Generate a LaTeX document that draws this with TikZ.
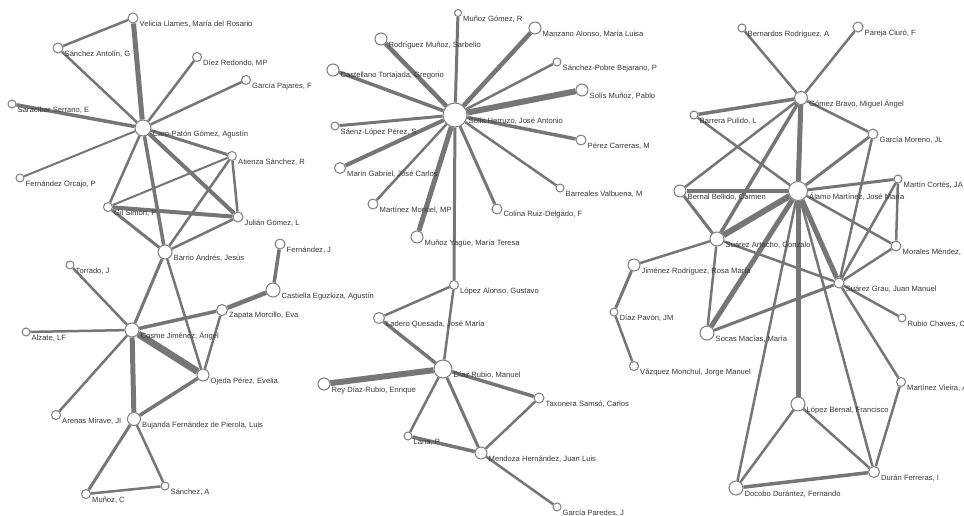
\documentclass[tikz,border=0pt]{standalone}
\usepackage{fontspec}
\setmainfont{Liberation Sans}
\usetikzlibrary{backgrounds}
\definecolor{edgec}{RGB}{118,118,118}
\definecolor{ringc}{RGB}{125,125,125}
\definecolor{txtc}{RGB}{55,55,55}
\tikzset{
  pn/.style={circle, draw=ringc, line width=1pt, fill=white, inner sep=0pt},
  lbl/.style={anchor=west, inner sep=0pt, font=\fontsize{7.6}{8}\selectfont, text=txtc},
  edge/.style={draw=edgec}
}
\newcommand\pn[5]{\node[pn, minimum size=#4pt] (#1) at (#2,#3) {}; \node[lbl] (#1-l) at ([shift={(1pt,-6pt)}]#1.east) {#5};}
\newcommand\ed[3]{\draw[edge, line width=#3pt] (#1) -- (#2);}
\begin{document}
\begin{tikzpicture}[x=1pt,y=-1pt]
\useasboundingbox (0,0) rectangle (964,516);
% ---------- left cluster ----------
\pn{VL}{133}{18}{10}{Velicia Llames, María del Rosario}
\pn{SAG}{58}{48}{10}{Sánchez Antolín, G}
\pn{DR}{197}{57}{9}{Díez Redondo, MP}
\pn{GP}{246}{80}{9}{García Pajares, F}
\pn{SS}{12}{104}{8}{Saracíbar Serrano, E}
\pn{CP}{143}{128}{16}{Caro-Patón Gómez, Agustín}
\pn{AS}{232}{156}{9}{Atienza Sánchez, R}
\pn{FO}{20}{178}{8}{Fernández Orcajo, P}
\pn{GS}{108}{207}{9}{Gil Simón, P}
\pn{JG}{238}{217}{10}{Julián Gómez, L}
\pn{BA}{165}{252}{14}{Barrio Andrés, Jesús}
\pn{FJ}{280}{244}{10}{Fernández, J}
\pn{CE}{273}{290}{14}{Castiella Eguzkiza, Agustín}
\pn{TJ}{70}{265}{8}{Torrado, J}
\pn{ZM}{222}{310}{11}{Zapata Morcillo, Eva}
\pn{CJ}{132}{330}{14}{Cosme Jiménez, Ángel}
\pn{AL}{26}{332}{8}{Alzate, LF}
\pn{OP}{203}{375}{12}{Ojeda Pérez, Evelia}
\pn{AM}{56}{415}{9}{Arenas Mirave, JI}
\pn{BF}{134}{419}{13}{Bujanda Fernández de Pierola, Luis}
\pn{MC}{86}{494}{9}{Muñoz, C}
\pn{SA}{165}{486}{8}{Sánchez, A}
% ---------- middle cluster ----------
\pn{MG}{458}{13}{7}{Muñoz Gómez, R}
\pn{MA}{535}{28}{12}{Manzano Alonso, María Luisa}
\pn{RM}{381}{39}{12}{Rodríguez Muñoz, Sarbelio}
\pn{SP}{557}{62}{8}{Sánchez-Pobre Bejarano, P}
\pn{CT}{333}{70}{12}{Castellano Tortajada, Gregorio}
\pn{SM}{582}{90}{12}{Solís Muñoz, Pablo}
\pn{SH}{455}{115}{24}{Solís Herruzo, José Antonio}
\pn{SL}{335}{126}{8}{Sáenz-López Pérez, S}
\pn{PC}{581}{140}{10}{Pérez Carreras, M}
\pn{MGa}{340}{168}{11}{Marín Gabriel, José Carlos}
\pn{BV}{560}{188}{8}{Barreales Valbuena, M}
\pn{MM}{373}{204}{10}{Martínez Montiel, MP}
\pn{CR}{497}{209}{10}{Colina Ruiz-Delgado, F}
\pn{MY}{417}{237}{12}{Muñoz Yagüe, María Teresa}
\pn{LA}{454}{285}{9}{López Alonso, Gustavo}
\pn{LQ}{379}{318}{11}{Ladero Quesada, José María}
\pn{DRM}{443}{369}{18}{Díaz Rubio, Manuel}
\pn{RD}{324}{384}{12}{Rey Díaz-Rubio, Enrique}
\pn{TS}{539}{398}{10}{Taxonera Samsó, Carlos}
\pn{LP}{408}{436}{8}{Lana, P}
\pn{MH}{481}{453}{12}{Mendoza Hernández, Juan Luis}
\pn{GPJ}{557}{507}{8}{García Paredes, J}
% ---------- right cluster ----------
\pn{BR}{742}{28}{8}{Bernardos Rodríguez, A}
\pn{PCi}{858}{27}{10}{Pareja Ciuró, F}
\pn{GB}{801}{98}{13}{Gómez Bravo, Miguel Ángel}
\pn{BP}{694}{115}{8}{Barrera Pulido, L}
\pn{GM}{873}{134}{10}{García Moreno, JL}
\pn{MCo}{898}{179}{8}{Martín Cortés, JA}
\pn{BB}{680}{191}{12}{Bernal Bellido, Carmen}
\pn{AMa}{798}{191}{19}{Álamo Martínez, José María}
\pn{SAr}{717}{239}{14}{Suárez Artacho, Gonzalo}
\pn{MMe}{896}{246}{10}{Morales Méndez,}
\pn{JR}{634}{265}{12}{Jiménez Rodríguez, Rosa María}
\pn{SG}{839}{283}{10}{Suárez Grau, Juan Manuel}
\pn{DP}{614}{312}{8}{Díaz Pavón, JM}
\pn{RC}{902}{318}{8}{Rubio Chaves, C}
\pn{SMa}{707}{333}{14}{Socas Macías, María}
\pn{VM}{634}{366}{9}{Vázquez Monchul, Jorge Manuel}
\pn{MV}{901}{382}{9}{Martínez Vieira, A}
\pn{LB}{798}{404}{14}{López Bernal, Francisco}
\pn{DF}{874}{472}{11}{Durán Ferreras, I}
\pn{DD}{736}{488}{14}{Docobo Durántez, Fernando}
\begin{pgfonlayer}{background}
\fill[white] (0,0) rectangle (964,516);
% left edges
\ed{VL}{CP}{5}
\ed{VL}{SAG}{2.5}
\ed{SAG}{CP}{2.5}
\ed{DR}{CP}{2.5}
\ed{GP}{CP}{2.5}
\ed{SS}{CP}{3.5}
\ed{FO}{CP}{2}
\ed{CP}{AS}{3}
\ed{CP}{GS}{2.5}
\ed{CP}{BA}{3.5}
\ed{CP}{JG}{4}
\ed{AS}{GS}{2}
\ed{AS}{JG}{2.5}
\ed{AS}{BA}{2.5}
\ed{GS}{JG}{4}
\ed{GS}{BA}{3}
\ed{BA}{JG}{2.5}
\ed{BA}{CJ}{3}
\ed{BA}{OP}{2.5}
\ed{TJ}{CJ}{2.5}
\ed{CJ}{ZM}{3.5}
\ed{ZM}{CE}{4.5}
\ed{CE}{FJ}{3.5}
\ed{AL}{CJ}{2.5}
\ed{CJ}{OP}{7}
\ed{ZM}{OP}{2.5}
\ed{CJ}{AM}{2.5}
\ed{CJ}{BF}{5}
\ed{OP}{BF}{3.5}
\ed{BF}{MC}{3}
\ed{BF}{SA}{2.5}
\ed{MC}{SA}{2.5}
% middle edges
\ed{SH}{MG}{3}
\ed{SH}{MA}{4.5}
\ed{SH}{RM}{4.5}
\ed{SH}{SP}{2.5}
\ed{SH}{CT}{3.5}
\ed{SH}{SM}{6}
\ed{SH}{SL}{3}
\ed{SH}{PC}{3.5}
\ed{SH}{MGa}{4}
\ed{SH}{BV}{2.5}
\ed{SH}{MM}{2.5}
\ed{SH}{CR}{3}
\ed{SH}{MY}{5}
\ed{SH}{LA}{3}
\ed{LA}{LQ}{2.5}
\ed{LA}{DRM}{2.5}
\ed{LQ}{DRM}{3.5}
\ed{DRM}{RD}{6}
\ed{DRM}{TS}{3.5}
\ed{DRM}{LP}{2.5}
\ed{DRM}{MH}{3}
\ed{TS}{MH}{2.5}
\ed{LP}{MH}{3.5}
\ed{MH}{GPJ}{2.5}
% right edges
\ed{BR}{GB}{2.5}
\ed{PCi}{GB}{2.5}
\ed{GB}{BP}{3.5}
\ed{GB}{GM}{2.5}
\ed{GB}{AMa}{5}
\ed{GB}{BB}{2.5}
\ed{GB}{SAr}{3.5}
\ed{BP}{AMa}{2.5}
\ed{GM}{AMa}{3}
\ed{GM}{SG}{2.5}
\ed{MCo}{AMa}{3}
\ed{MCo}{MMe}{2.5}
\ed{MCo}{SG}{2.5}
\ed{AMa}{MMe}{2.5}
\ed{MMe}{SG}{2.5}
\ed{BB}{AMa}{4}
\ed{BB}{SAr}{3}
\ed{AMa}{SAr}{6}
\ed{AMa}{SMa}{5}
\ed{AMa}{DD}{2.5}
\ed{AMa}{LB}{5}
\ed{AMa}{SG}{5}
\ed{AMa}{DF}{2.5}
\ed{JR}{SAr}{2.5}
\ed{JR}{DP}{3}
\ed{DP}{VM}{2.5}
\ed{SAr}{SMa}{2.5}
\ed{SAr}{SG}{2.5}
\ed{SMa}{SG}{3}
\ed{SG}{RC}{2.5}
\ed{SG}{MV}{2.5}
\ed{MV}{DF}{2.5}
\ed{LB}{DF}{2.5}
\ed{LB}{DD}{2.5}
\ed{DD}{DF}{3.5}
\end{pgfonlayer}
\end{tikzpicture}
\end{document}
